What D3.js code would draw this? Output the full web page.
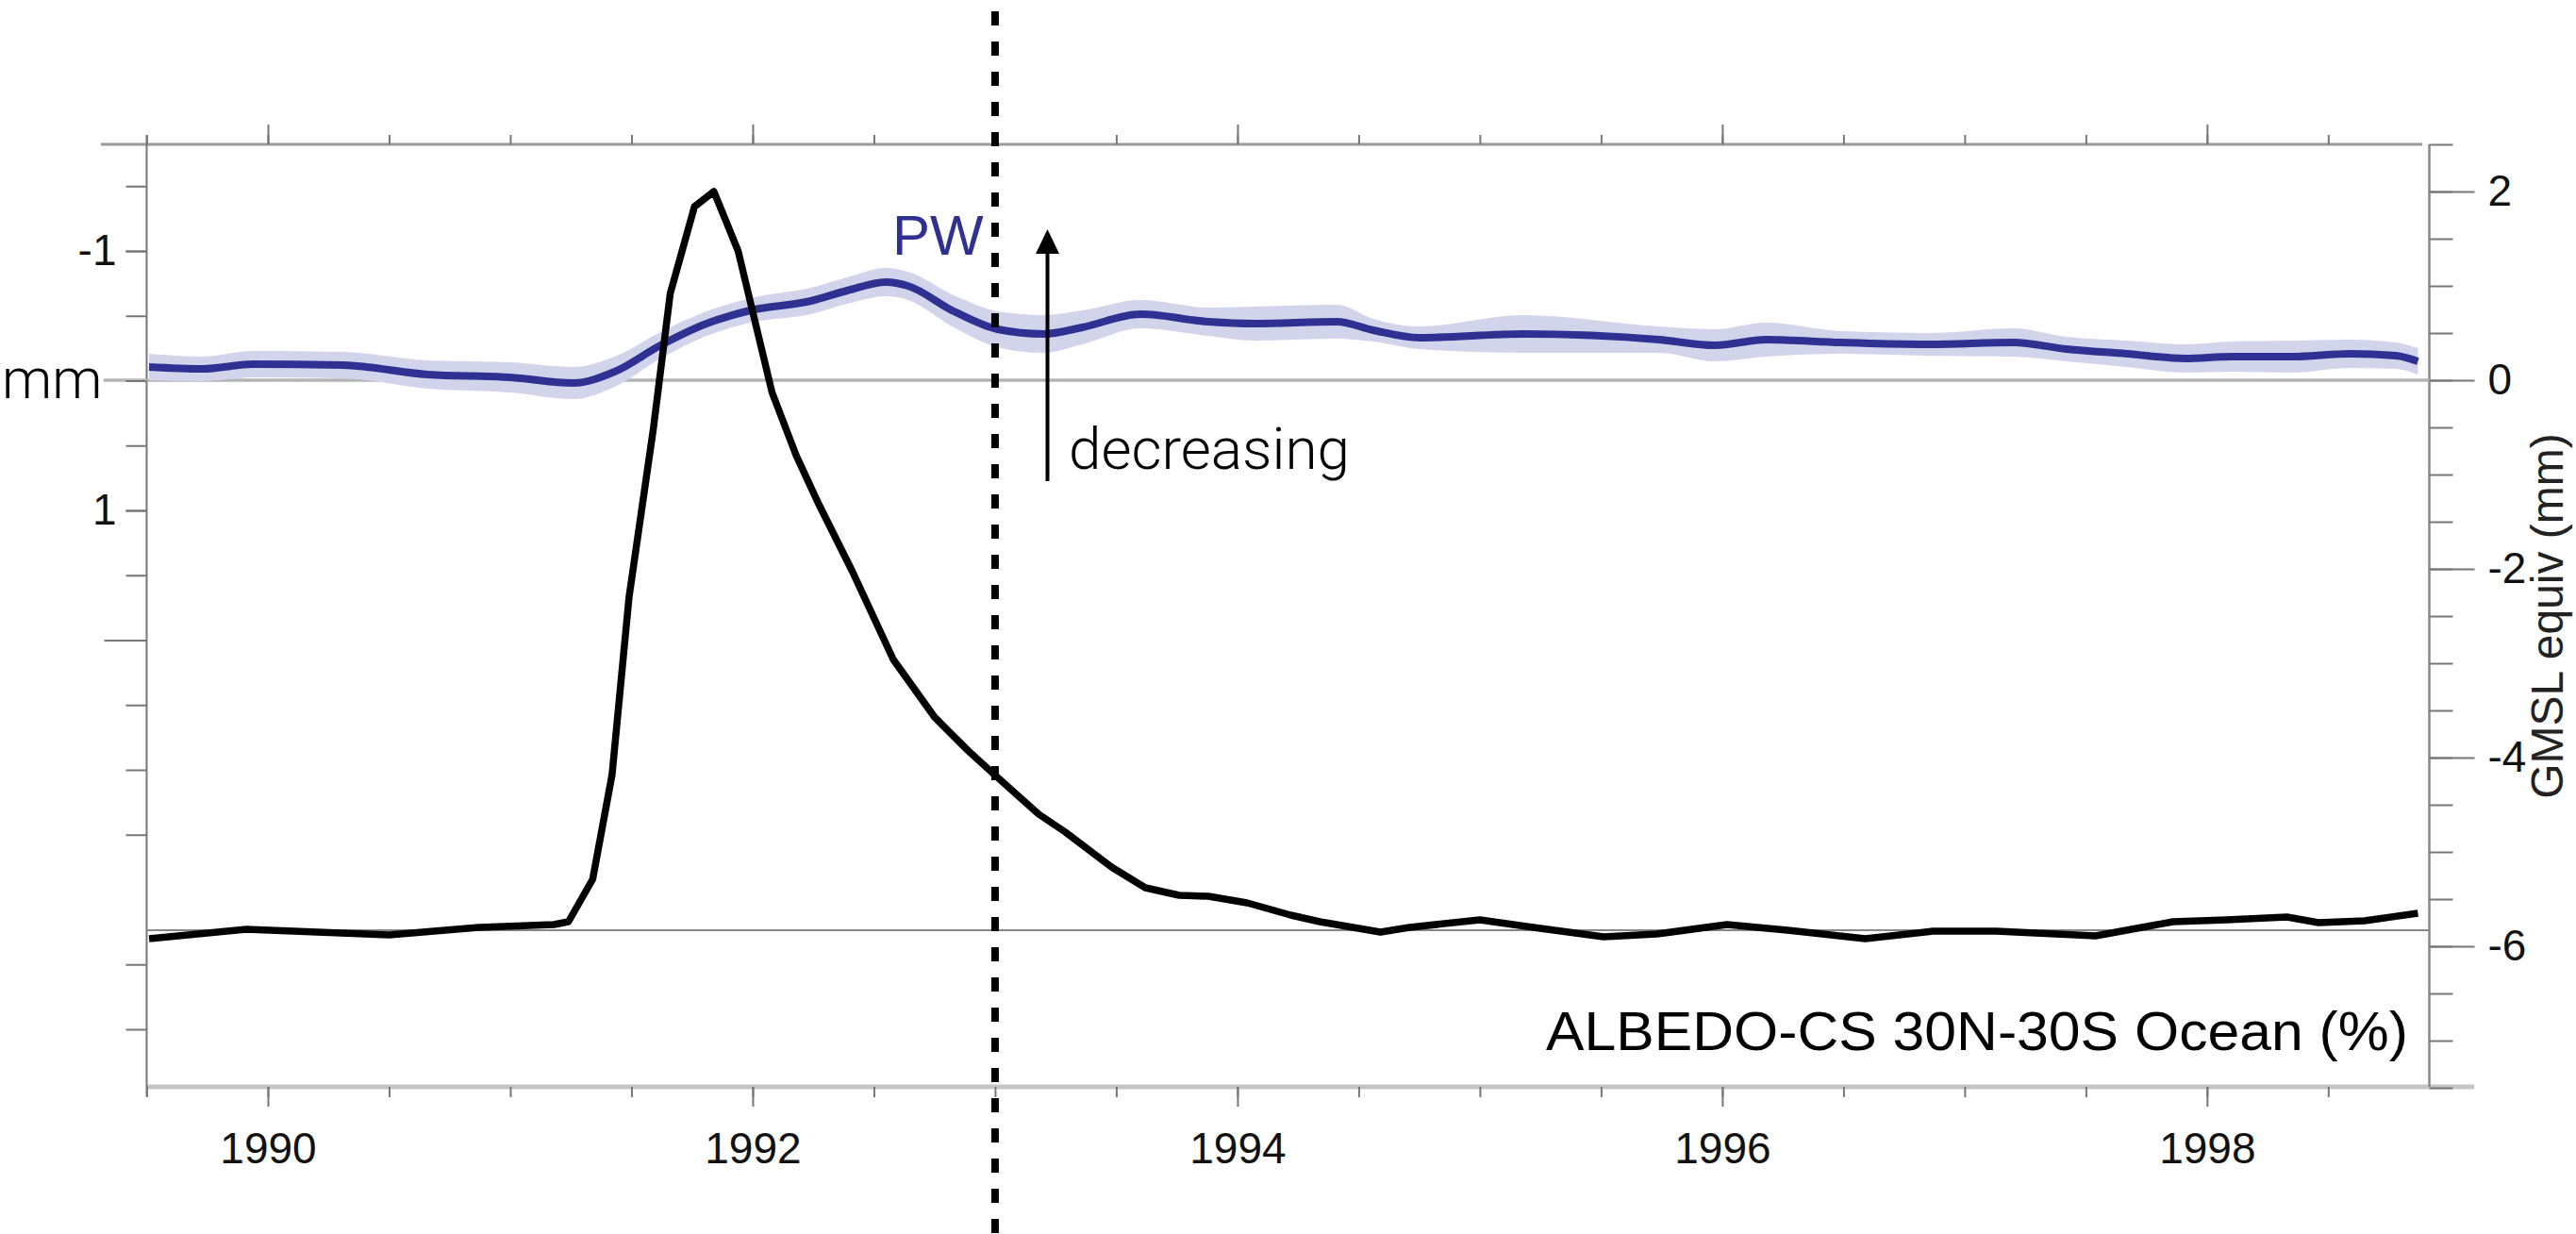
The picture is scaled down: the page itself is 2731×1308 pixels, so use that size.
<!DOCTYPE html>
<html>
<head>
<meta charset="utf-8">
<script src="https://d3js.org/d3.v7.min.js"></script>
<style>
  body { margin: 0; background: #fff; }
  svg { display: block; font-family: "Liberation Sans", Arial, Helvetica, sans-serif; }
  .tick line { stroke: #777; stroke-width: 2; }
  .domain { display: none; }
</style>
</head>
<body>
<div id="chart"></div>
<script>
// albedo-cs 30N-30S ocean (black), plotted on the GMSL equiv axis
var albedoYears = [1989.51, 1989.91, 1990.50, 1990.87, 1991.18, 1991.24, 1991.34, 1991.42, 1991.49, 1991.59,
    1991.66, 1991.76, 1991.84, 1991.94, 1992.08, 1992.18, 1992.27, 1992.41, 1992.58, 1992.75,
    1992.89, 1993.01, 1993.18, 1993.29, 1993.48, 1993.62, 1993.76, 1993.88, 1994.04, 1994.22,
    1994.34, 1994.59, 1994.71, 1995.00, 1995.22, 1995.51, 1995.73, 1996.02, 1996.27, 1996.59,
    1996.87, 1997.13, 1997.54, 1997.86, 1998.08, 1998.33, 1998.46, 1998.65, 1998.87];
var albedoValues = [-5.92, -5.82, -5.88, -5.80, -5.77, -5.74, -5.29, -4.18, -2.30, -0.52,
    0.92, 1.84, 2.00, 1.37, -0.13, -0.80, -1.30, -2.02, -2.96, -3.57,
    -3.93, -4.21, -4.60, -4.79, -5.16, -5.38, -5.46, -5.47, -5.54, -5.67,
    -5.74, -5.85, -5.80, -5.72, -5.80, -5.90, -5.87, -5.77, -5.83, -5.92,
    -5.84, -5.84, -5.89, -5.74, -5.72, -5.69, -5.75, -5.73, -5.65];
var albedoRef = -5.83;

// PW (blue) with its uncertainty band
var pwYears = [1989.51, 1989.73, 1989.94, 1990.31, 1990.66, 1991.00, 1991.26, 1991.43, 1991.62, 1991.80,
    1991.99, 1992.24, 1992.39, 1992.55, 1992.64, 1992.83, 1993.01, 1993.20, 1993.36, 1993.60,
    1993.88, 1994.07, 1994.41, 1994.56, 1994.75, 1995.18, 1995.74, 1995.97, 1996.18, 1996.49,
    1996.86, 1997.20, 1997.42, 1997.67, 1997.91, 1998.10, 1998.35, 1998.59, 1998.78, 1998.87];
var pwValues = [0.14, 0.12, 0.17, 0.16, 0.06, 0.03, -0.03, 0.09, 0.37, 0.59,
    0.74, 0.84, 0.95, 1.04, 1.00, 0.73, 0.54, 0.49, 0.56, 0.70,
    0.62, 0.60, 0.62, 0.53, 0.45, 0.49, 0.43, 0.37, 0.43, 0.40,
    0.38, 0.40, 0.33, 0.28, 0.23, 0.25, 0.25, 0.28, 0.26, 0.20];
var pwSpread = [0.14, 0.13, 0.14, 0.14, 0.15, 0.16, 0.17, 0.16, 0.14, 0.13,
    0.13, 0.14, 0.14, 0.15, 0.15, 0.17, 0.19, 0.20, 0.18, 0.15,
    0.15, 0.18, 0.18, 0.12, 0.12, 0.20, 0.14, 0.17, 0.18, 0.12,
    0.12, 0.15, 0.13, 0.14, 0.15, 0.16, 0.17, 0.15, 0.14, 0.14];

// ticks and labels
var yearTicks = [1990, 1992, 1994, 1996, 1998];
var yearMinorTicks = d3.range(1989.5, 1998.6, 0.5);
var rightTicks = [2, 0, -2, -4, -6];
var rightMinorTicks = d3.range(-7.5, 2.51, 0.5);
var leftTicks = [-1, 1];
var leftMinorTicks = [-1.5, -1, -0.5, 0, 0.5, 1, 1.5, 2, 2.5, 3, 3.5, 4.5, 5];
var eventYear = 1993;

var W = 2731, H = 1308;
var plot = {left: 155.5, right: 2575.5, top: 153, bottom: 1152};
var blue = "#2e3192";

var svg = d3.select("#chart").append("svg")
    .attr("width", W)
    .attr("height", H);

// scales
var x = d3.scaleLinear().domain([1989.5, 1998.917]).range([plot.left, plot.right]);
var yR = d3.scaleLinear().domain([-7.5, 2.5]).range([plot.bottom + 1, plot.top]);
var yL = d3.scaleLinear().domain([-1, 1]).range([266, 541]);

function asText(d) { return String(d); }

// frame lines
svg.append("line").attr("x1", 107).attr("x2", 2568).attr("y1", plot.top).attr("y2", plot.top)
    .style("stroke", "#999").style("stroke-width", 3);
svg.append("line").attr("x1", plot.left).attr("x2", 2623).attr("y1", plot.bottom).attr("y2", plot.bottom)
    .style("stroke", "#c4c4c4").style("stroke-width", 5);
svg.append("line").attr("x1", plot.left).attr("x2", plot.left).attr("y1", 143).attr("y2", 1162)
    .style("stroke", "#777").style("stroke-width", 2);
svg.append("line").attr("x1", plot.right).attr("x2", plot.right).attr("y1", plot.top).attr("y2", plot.bottom)
    .style("stroke", "#888").style("stroke-width", 2.5);

// zero line and albedo reference
svg.append("line").attr("x1", 110).attr("x2", plot.right).attr("y1", yR(0)).attr("y2", yR(0))
    .style("stroke", "#b4b4b4").style("stroke-width", 3.5);
svg.append("line").attr("x1", plot.left).attr("x2", plot.right).attr("y1", yR(albedoRef)).attr("y2", yR(albedoRef))
    .style("stroke", "#888").style("stroke-width", 2);

// bottom axis
svg.append("g")
    .attr("transform", "translate(0," + plot.bottom + ")")
    .call(d3.axisBottom(x).tickValues(yearMinorTicks).tickSize(11).tickFormat(""));
svg.append("g")
    .attr("class", "xlab")
    .attr("transform", "translate(0," + plot.bottom + ")")
    .call(d3.axisBottom(x).tickValues(yearTicks).tickSize(21).tickPadding(27).tickFormat(d3.format("d")));

// top axis
svg.append("g")
    .attr("transform", "translate(0," + plot.top + ")")
    .call(d3.axisTop(x).tickValues(yearMinorTicks).tickSize(10).tickFormat(""));
svg.append("g")
    .attr("transform", "translate(0," + plot.top + ")")
    .call(d3.axisTop(x).tickValues(yearTicks).tickSize(21).tickFormat(""));

// right axis (GMSL equiv)
svg.append("g")
    .attr("transform", "translate(" + plot.right + ",0)")
    .call(d3.axisRight(yR).tickValues(rightMinorTicks).tickSize(25).tickFormat(""));
svg.append("g")
    .attr("class", "ylab")
    .attr("transform", "translate(" + plot.right + ",0)")
    .call(d3.axisRight(yR).tickValues(rightTicks).tickSize(48).tickPadding(14).tickFormat(asText));

// left axis (albedo, inverted)
svg.append("g")
    .attr("transform", "translate(" + plot.left + ",0)")
    .call(d3.axisLeft(yL).tickValues(leftMinorTicks).tickSize(22).tickFormat(""));
svg.append("g")
    .attr("transform", "translate(" + plot.left + ",0)")
    .call(d3.axisLeft(yL).tickValues([2]).tickSize(45).tickFormat(""));
svg.append("g")
    .attr("class", "ylab")
    .attr("transform", "translate(" + plot.left + ",0)")
    .call(d3.axisLeft(yL).tickValues(leftTicks).tickSize(22).tickPadding(10).tickFormat(asText));

svg.selectAll(".xlab text, .ylab text")
    .style("font-size", "46px")
    .style("fill", "#111");

// PW band and line
var pw = pwYears.map(function (d, i) {
    return {year: d, value: pwValues[i], spread: pwSpread[i]};
});

var band = d3.area()
    .x(function (d) { return x(d.year); })
    .y0(function (d) { return yR(d.value - d.spread); })
    .y1(function (d) { return yR(d.value + d.spread); })
    .curve(d3.curveMonotoneX);

var pwLine = d3.line()
    .x(function (d) { return x(d.year); })
    .y(function (d) { return yR(d.value); })
    .curve(d3.curveMonotoneX);

svg.append("path")
    .datum(pw)
    .attr("d", band)
    .style("fill", "#d2d4eb")
    .style("stroke", "none");

svg.append("path")
    .datum(pw)
    .attr("d", pwLine)
    .style("fill", "none")
    .style("stroke", blue)
    .style("stroke-width", 8);

// albedo line
var albedo = albedoYears.map(function (d, i) {
    return {year: d, value: albedoValues[i]};
});

var albedoLine = d3.line()
    .x(function (d) { return x(d.year); })
    .y(function (d) { return yR(d.value); });

svg.append("path")
    .datum(albedo)
    .attr("d", albedoLine)
    .style("fill", "none")
    .style("stroke", "#000")
    .style("stroke-width", 7.5)
    .style("stroke-linejoin", "round");

// event marker
svg.append("line")
    .attr("x1", x(eventYear)).attr("x2", x(eventYear))
    .attr("y1", 12).attr("y2", H)
    .style("stroke", "#000")
    .style("stroke-width", 8)
    .style("stroke-dasharray", "15,17");

// arrow
var ax = 1110.5;
svg.append("line")
    .attr("x1", ax).attr("x2", ax).attr("y1", 510).attr("y2", 266)
    .style("stroke", "#000").style("stroke-width", 4);
svg.append("path")
    .attr("d", "M" + ax + ",243L" + (ax - 12.5) + ",269L" + (ax + 12.5) + ",269Z")
    .style("fill", "#000");

// labels
svg.append("text")
    .attr("x", 946).attr("y", 270)
    .style("font-size", "60px")
    .style("fill", blue)
    .text("PW");

svg.append("text")
    .attr("x", 1133).attr("y", 497)
    .style("font-size", "62px")
    .style("font-family", "Roboto, 'Liberation Sans', sans-serif")
    .style("font-weight", 300)
    .text("decreasing");

svg.append("text")
    .attr("x", 2).attr("y", 422)
    .style("font-size", "60px")
    .style("font-family", "Roboto, 'Liberation Sans', sans-serif")
    .style("font-weight", 300)
    .text("mm");

svg.append("text")
    .attr("x", 2553).attr("y", 1113)
    .attr("text-anchor", "end")
    .style("font-size", "58px")
    .attr("textLength", 914)
    .attr("lengthAdjust", "spacingAndGlyphs")
    .text("ALBEDO-CS 30N-30S Ocean (%)");

svg.append("text")
    .attr("transform", "translate(2717,653) rotate(-90)")
    .attr("text-anchor", "middle")
    .style("font-size", "48px")
    .style("fill", "#222")
    .text("GMSL equiv (mm)");

</script>
</body>
</html>
